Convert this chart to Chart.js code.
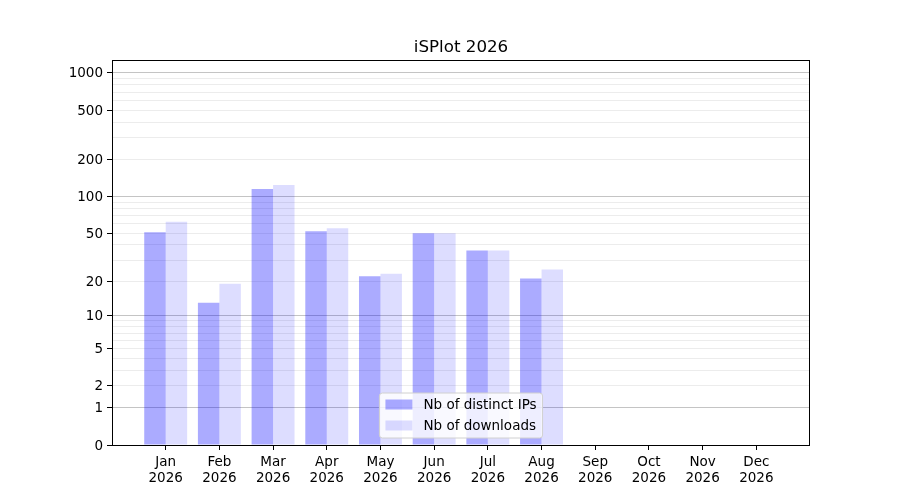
<!DOCTYPE html>
<html>
<head>
<meta charset="utf-8">
<title>iSPlot 2026</title>
<script src="https://cdn.jsdelivr.net/npm/chart.js@4.4.1/dist/chart.umd.min.js"></script>
<style>
  body { margin: 0; background: #ffffff; }
  canvas { display: block; }
</style>
</head>
<body>
<canvas id="isplot_graph" width="900" height="500"></canvas>
<script>
// values
const months = ['Jan', 'Feb', 'Mar', 'Apr', 'May', 'Jun', 'Jul', 'Aug', 'Sep', 'Oct', 'Nov', 'Dec'];
const year = '2026';
const distinct_ips = [51, 13, 115, 52, 22, 50, 36, 21, 0, 0, 0, 0];
const downloads = [62, 19, 124, 55, 23, 50, 36, 25, 0, 0, 0, 0];

// y axis is log10(1 + v)
const y_labels = [0, 1, 2, 5, 10, 20, 50, 100, 200, 500, 1000];
const y_decades = [1, 10, 100, 1000];
const y_minor = [3, 4, 6, 7, 8, 9, 30, 40, 60, 70, 80, 90, 300, 400, 600, 700, 800, 900];
const y_top = 1270;

const FONT = "'DejaVu Sans', 'Liberation Sans', sans-serif";
Chart.defaults.font.family = FONT;
Chart.defaults.color = '#000000';

function toAxis(v) { return Math.log10(1 + v); }
function fromAxis(t) { return Math.round(Math.pow(10, t) - 1); }

/* box around the plot, like matplotlib spines */
const framePlugin = {
    id: 'frame',
    afterDraw(chart) {
        const a = chart.chartArea;
        const ctx = chart.ctx;
        ctx.save();
        ctx.strokeStyle = '#000000';
        ctx.lineWidth = 1;
        ctx.strokeRect(Math.round(a.left) + 0.5, Math.round(a.top) + 0.5,
            Math.round(a.right - a.left) - 1, Math.round(a.bottom - a.top));
        ctx.restore();
    }
};

/* legend inside the plot, lower center */
const innerLegend = {
    id: 'innerLegend',
    afterDatasetsDraw(chart) {
        const a = chart.chartArea;
        const ctx = chart.ctx;
        const sets = chart.data.datasets;
        ctx.save();
        ctx.font = '13.5px ' + FONT;
        let textW = 0;
        sets.forEach(ds => { textW = Math.max(textW, ctx.measureText(ds.label).width); });
        const handleW = 27, handleH = 10, rowH = 21;
        const w = 6 + handleW + 11 + textW + 6;
        const h = 45;
        const x = (a.left + a.right) / 2 - w / 2;
        const y = a.bottom - 7 - h;

        ctx.beginPath();
        ctx.roundRect(x, y, w, h, 3);
        ctx.fillStyle = 'rgba(255,255,255,0.8)';
        ctx.fill();
        ctx.strokeStyle = '#d0d0d0';
        ctx.lineWidth = 1;
        ctx.stroke();

        sets.forEach((ds, i) => {
            const cy = y + 11.5 + i * rowH;
            ctx.fillStyle = ds.backgroundColor;
            ctx.fillRect(x + 6, cy - handleH / 2, handleW, handleH);
            ctx.fillStyle = '#000000';
            ctx.textBaseline = 'middle';
            ctx.textAlign = 'left';
            ctx.fillText(ds.label, x + 6 + handleW + 11, cy + 1);
        });
        ctx.restore();
    }
};

let ctx = document.getElementById('isplot_graph');

new Chart(ctx, {
    type: 'bar',
    data: {
        datasets: [{
            label: 'Nb of distinct IPs',
            data: distinct_ips.map((v, i) => ({x: i, y: toAxis(v)})),
            backgroundColor: 'rgba(0, 0, 255, 0.33)',
            borderWidth: 0
        },
        {
            label: 'Nb of downloads',
            data: downloads.map((v, i) => ({x: i, y: toAxis(v)})),
            backgroundColor: 'rgba(0, 0, 255, 0.133)',
            borderWidth: 0
        }]
    },
    options: {
        responsive: false,
        animation: false,
        devicePixelRatio: 1,
        categoryPercentage: 0.8,
        barPercentage: 1.0,
        layout: { padding: { top: 0, right: 90, bottom: 0, left: 0 } },
        plugins: {
            legend: { display: false },
            tooltip: { enabled: false },
            title: {
                display: true,
                text: 'iSPlot 2026',
                fullSize: false,
                color: '#000000',
                font: { size: 16.7, weight: 'normal', lineHeight: 1.2 },
                padding: { top: 38, bottom: 2 }
            }
        },
        scales: {
            x: {
                type: 'linear',
                min: -1,
                max: 12,
                offset: false,
                afterBuildTicks: (scale) => { scale.ticks = months.map((m, i) => ({value: i})); },
                afterFit: (scale) => { scale.height = 55; },
                ticks: {
                    autoSkip: false,
                    maxRotation: 0,
                    padding: 5,
                    font: { size: 13.5, lineHeight: 1.15 },
                    callback: (v) => [months[v], year]
                },
                grid: { offset: false, drawOnChartArea: false, tickLength: 5, tickColor: '#000000' },
                border: { display: false }
            },
            y: {
                type: 'linear',
                min: 0,
                max: toAxis(y_top),
                afterBuildTicks: (scale) => {
                    scale.ticks = y_labels.concat(y_minor).sort((a, b) => a - b)
                        .map(v => ({value: toAxis(v)}));
                },
                afterFit: (scale) => { scale.width = 112; },
                ticks: {
                    autoSkip: false,
                    padding: 4,
                    labelOffset: 1,
                    font: { size: 13.5 },
                    callback: (t) => {
                        const v = fromAxis(t);
                        return y_labels.includes(v) ? String(v) : '';
                    }
                },
                grid: {
                    tickLength: 5,
                    color: (c) => y_decades.includes(fromAxis(c.tick.value)) ? '#c4c4c4' : '#ececec',
                    tickColor: (c) => y_labels.includes(fromAxis(c.tick.value)) ? '#000000' : 'rgba(0,0,0,0)'
                },
                border: { display: false }
            }
        }
    },
    plugins: [framePlugin, innerLegend]
});
</script>
</body>
</html>
